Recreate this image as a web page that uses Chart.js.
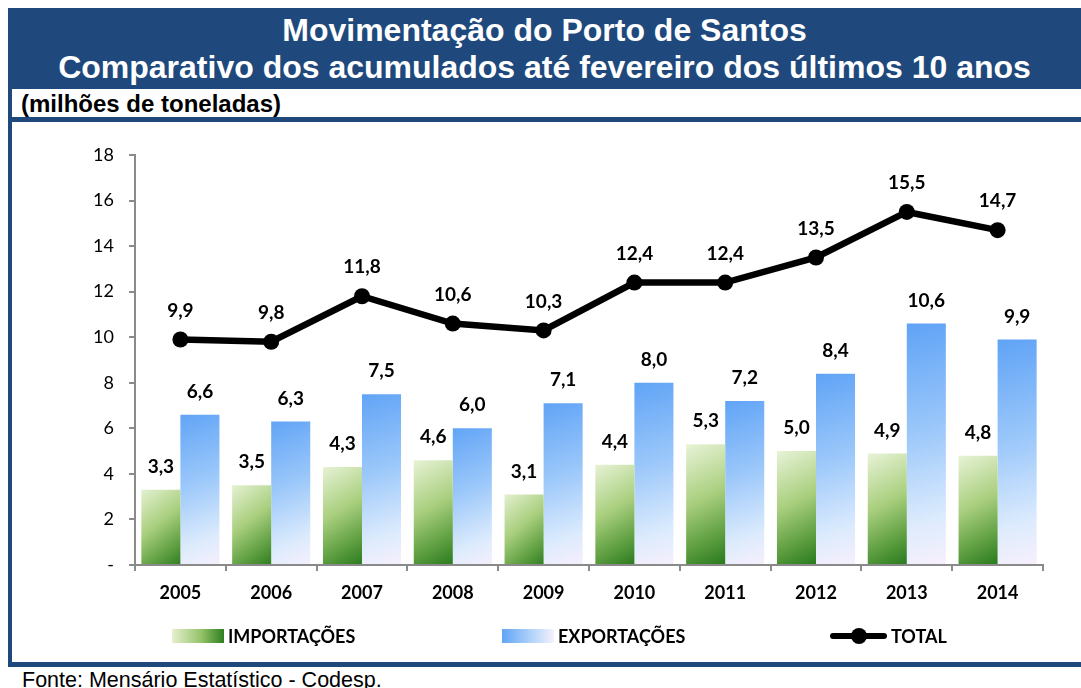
<!DOCTYPE html>
<html lang="pt-BR">
<head>
<meta charset="utf-8">
<title>Movimentação do Porto de Santos</title>
<script src="https://cdn.jsdelivr.net/npm/chart.js@4/dist/chart.umd.min.js"></script>
<style>
  html, body { margin: 0; padding: 0; background: #fff; }
  body { width: 1081px; height: 688px; position: relative; overflow: hidden; font-family: "Liberation Sans", Arial, sans-serif; }
  .frame-left { position: absolute; left: 8px; top: 8px; width: 4px; height: 659px; background: #1f497d; }
  .title { position: absolute; left: 8px; top: 8px; width: 1073px; height: 81px; background: #1f497d; color: #fff;
           font-weight: bold; font-size: 32px; line-height: 37px; text-align: center; padding-top: 4px; box-sizing: border-box; }
  .unit { position: absolute; left: 21px; top: 90px; font-weight: bold; font-size: 24px; color: #000; }
  .rule-top { position: absolute; left: 8px; top: 117px; width: 1073px; height: 5px; background: #1f497d; }
  .rule-bottom { position: absolute; left: 8px; top: 662px; width: 1073px; height: 5px; background: #1f497d; }
  .source { position: absolute; left: 22px; top: 668px; font-size: 21.5px; color: #000; }
  #wrap { position: absolute; left: 12px; top: 122px; width: 1069px; height: 540px; }
  .legend { position: absolute; top: 625px; font-family: Lato, "Open Sans", sans-serif; font-weight: bold; font-size: 18px; color: #000;
            display: flex; align-items: center; }
  .sw { display: inline-block; width: 52px; height: 14px; margin-right: 4px; }
  .sw.imp { background: linear-gradient(to right, #e4f0cf, #98c46b 55%, #2f7f22); }
  .sw.exp { background: linear-gradient(to right, #62a4f6, #b5d6fb 60%, #f7f0fc); }
  .sw.tot { position: relative; width: 57px; height: 16px; }
  .sw.tot::before { content: ""; position: absolute; left: 0; right: 0; top: 5px; height: 6px; background: #000; border-radius: 3px; }
  .sw.tot::after { content: ""; position: absolute; left: 21px; top: 0; width: 16px; height: 16px; background: #000; border-radius: 50%; }
</style>
</head>
<body>
<div class="frame-left"></div>
<div class="title">Movimentação do Porto de Santos<br>Comparativo dos acumulados até fevereiro dos últimos 10 anos</div>
<div class="unit">(milhões de toneladas)</div>
<div class="rule-top"></div>
<div id="wrap"><canvas id="chart"></canvas></div>
<div class="legend" style="left:172px"><span class="sw imp"></span>IMPORTAÇÕES</div>
<div class="legend" style="left:502px"><span class="sw exp"></span>EXPORTAÇÕES</div>
<div class="legend" style="left:830px"><span class="sw tot"></span>TOTAL</div>
<div class="rule-bottom"></div>
<div class="source">Fonte: Mensário Estatístico - Codesp.</div>

<script>
const years = ["2005", "2006", "2007", "2008", "2009", "2010", "2011", "2012", "2013", "2014"];
const importacoes = [3.3, 3.5, 4.3, 4.6, 3.1, 4.4, 5.3, 5.0, 4.9, 4.8];
const exportacoes = [6.6, 6.3, 7.5, 6.0, 7.1, 8.0, 7.2, 8.4, 10.6, 9.9];
const total = [9.9, 9.8, 11.8, 10.6, 10.3, 12.4, 12.4, 13.5, 15.5, 14.7];
const yTicks = [0, 2, 4, 6, 8, 10, 12, 14, 16, 18];

const axisGray = "#8a8a8a";
const labelFont = "Lato, 'Open Sans', sans-serif";

// per-bar diagonal gradient, computed from the scales so each bar gets its own
function barGradient(context, stops, side) {
  const chart = context.chart;
  const xs = chart.scales.x, ys = chart.scales.y;
  if (!xs || !ys || context.dataIndex === undefined) return stops[1][1];
  const v = context.raw;
  const xc = xs.getPixelForValue(context.dataIndex);
  const half = (xs.width / years.length) * 0.86 / 2;
  const left = side === "left" ? xc - half : xc;
  const right = side === "left" ? xc : xc + half;
  const top = ys.getPixelForValue(v);
  const bottom = ys.getPixelForValue(0);
  if (!isFinite(top) || !isFinite(left)) return stops[1][1];
  const g = chart.ctx.createLinearGradient(left - 10, top, right + 10, bottom);
  stops.forEach(([p, c]) => g.addColorStop(p, c));
  return g;
}

const impStops = [[0, "#eef6df"], [0.45, "#a9cf7e"], [0.75, "#5d9e40"], [1, "#1f7318"]];
const expStops = [[0, "#5ea2f6"], [0.45, "#9cc8fa"], [0.8, "#dcebfd"], [1, "#faf0fc"]];

const fmt = (v) => v.toFixed(1).replace(".", ",");

const valueLabels = {
  id: "valueLabels",
  afterDatasetsDraw(chart) {
    const ctx = chart.ctx;
    ctx.save();
    ctx.fillStyle = "#000";
    ctx.font = "bold 19px " + labelFont;
    ctx.textAlign = "center";
    ctx.textBaseline = "middle";
    chart.data.datasets.forEach((ds, di) => {
      const meta = chart.getDatasetMeta(di);
      meta.data.forEach((el, i) => {
        const off = ds.type === "line" ? 29 : 23;
        ctx.fillText(fmt(ds.data[i]), el.x, el.y - off);
      });
    });
    ctx.restore();
  }
};

new Chart(document.getElementById("chart"), {
  data: {
    labels: years,
    datasets: [
      {
        type: "line",
        label: "TOTAL",
        data: total,
        order: 0,
        borderColor: "#000",
        backgroundColor: "#000",
        borderWidth: 6.5,
        pointRadius: 8,
        pointBackgroundColor: "#000",
        pointBorderWidth: 0,
        tension: 0,
      },
      {
        type: "bar",
        label: "IMPORTAÇÕES",
        data: importacoes,
        order: 1,
        backgroundColor: (c) => barGradient(c, impStops, "left"),
        barPercentage: 1,
        categoryPercentage: 0.86,
      },
      {
        type: "bar",
        label: "EXPORTAÇÕES",
        data: exportacoes,
        order: 1,
        backgroundColor: (c) => barGradient(c, expStops, "right"),
        barPercentage: 1,
        categoryPercentage: 0.86,
      },
    ],
  },
  options: {
    responsive: true,
    maintainAspectRatio: false,
    animation: false,
    layout: { padding: { top: 33, right: 38, left: 0, bottom: 0 } },
    plugins: { legend: { display: false }, tooltip: { enabled: false } },
    scales: {
      x: {
        offset: true,
        grid: { offset: true, drawOnChartArea: false, color: axisGray, lineWidth: 2, tickLength: 6 },
        border: { color: axisGray, width: 2 },
        ticks: { color: "#000", font: { family: labelFont, size: 18, weight: "bold" }, padding: 11 },
        afterFit: (s) => { s.height = 97; },
      },
      y: {
        min: 0,
        max: 18,
        afterBuildTicks: (s) => { s.ticks = yTicks.map((v) => ({ value: v })); },
        grid: { drawOnChartArea: false, color: axisGray, lineWidth: 2, tickLength: 6 },
        border: { color: axisGray, width: 2 },
        ticks: { color: "#000", font: { family: labelFont, size: 18 }, padding: 15, callback: (v) => (v === 0 ? "-" : v) },
        afterFit: (s) => { s.width = 123; },
      },
    },
  },
  plugins: [valueLabels],
});
</script>
</body>
</html>
